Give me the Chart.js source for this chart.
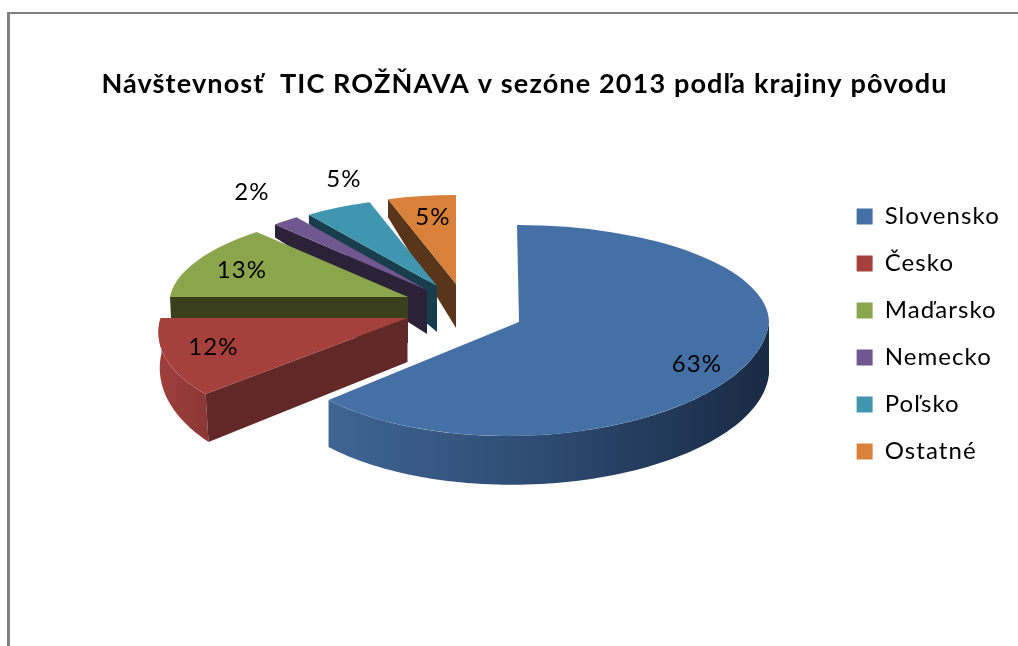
<!DOCTYPE html>
<html>
<head>
<meta charset="utf-8">
<style>html,body{margin:0;padding:0;background:#fff}canvas{display:block}</style>
<script src="https://cdn.jsdelivr.net/npm/chart.js@4"></script>
</head>
<body>
<canvas id="c" width="1018" height="646"></canvas>
<script>
const chartTitle = "Návštevnosť  TIC ROŽŇAVA v sezóne 2013 podľa krajiny pôvodu";
const categories = ["Slovensko", "Česko", "Maďarsko", "Nemecko", "Poľsko", "Ostatné"];
const shareValues = [63, 12, 13, 2, 5, 5];
const faceColors = ["#4570a6", "#a5403d", "#8ba54c", "#71578f", "#3f96ae", "#d9803a"];
const wallColors = ["#2b4768", "#622828", "#3a401c", "#2c2238", "#183d4c", "#59361a"];

// 3-D projection styling for every slice (not data)
const sliceViews = [
  {x:519, y:322, rx:250, ryB:97, ryF:114, shB:2,   shF:-12, rim:[52,47], rimDx:[0,0], rimStops:["#182a44","#2d4a70","#3f6594"], label:[178,42]},
  {x:407.5,y:318, rx:247, ryB:0,  ryF:111, shB:0,   shF:-32, wall:[44,48,3], rim:[48,35], rimDx:[3,1], rimStops:["#8c3835","#9f3f3c"], label:[-194,29]},
  {x:408, y:297, rx:238, ryB:89, ryF:0,   shB:-16, shF:0,   wall:[46,21,1], label:[-166,-27]},
  {x:427, y:290, rx:222, ryB:90, ryF:0,   shB:0,   shF:0,   wall:[44,13,0], label:[-175,-98]},
  {x:437, y:286, rx:218, ryB:88, ryF:0,   shB:0,   shF:0,   wall:[46,9,0],  label:[-93,-107]},
  {x:456, y:284, rx:220, ryB:89, ryF:0,   shB:0,   shF:0,   wall:[44,18,0], label:[-23,-67]}
];

function project(v, a){
  const s = Math.sin(a), c = Math.cos(a);
  const front = s >= 0;
  return { x: v.x + v.rx*c + (front ? v.shF : v.shB)*s, y: v.y + (front ? v.ryF : v.ryB)*s };
}

function drawFace(ctx, arc, v, half, W, H){
  const R = arc.outerRadius;
  const ry = half === 'F' ? v.ryF : v.ryB;
  const sh = half === 'F' ? v.shF : v.shB;
  if (!ry) return;
  ctx.save();
  ctx.beginPath();
  if (half === 'F') ctx.rect(0, v.y - 0.5, W, H); else ctx.rect(0, 0, W, v.y + 0.5);
  ctx.clip();
  const a = v.rx/R, cc = sh/R, d = ry/R;
  ctx.transform(a, 0, cc, d, v.x - a*arc.x - cc*arc.y, v.y - d*arc.y);
  arc.draw(ctx);
  ctx.restore();
}

const pie3d = {
  id: 'pie3d',
  beforeDatasetsDraw(chart){
    const ctx = chart.ctx, W = chart.width, H = chart.height;
    const arcs = chart.getDatasetMeta(0).data;
    for (let i = arcs.length - 1; i >= 0; i--){
      const arc = arcs[i], v = sliceViews[i];
      if (v.rim){
        const a0 = Math.max(arc.startAngle, 0), a1 = Math.min(arc.endAngle, Math.PI);
        const top = [], bottom = [];
        for (let k = 0; k <= 80; k++){
          const t = k/80, a = a0 + (a1-a0)*t, p = project(v, a);
          top.push(p);
          bottom.push({x:p.x + v.rimDx[0] + (v.rimDx[1]-v.rimDx[0])*t, y:p.y + v.rim[0] + (v.rim[1]-v.rim[0])*t});
        }
        const xs = top.map(p => p.x), g = ctx.createLinearGradient(Math.max(...xs),0,Math.min(...xs),0);
        v.rimStops.forEach((c,n) => g.addColorStop(n/(v.rimStops.length-1), c));
        ctx.fillStyle = g;
        ctx.beginPath();
        top.forEach((p,n) => n ? ctx.lineTo(p.x,p.y) : ctx.moveTo(p.x,p.y));
        bottom.reverse().forEach(p => ctx.lineTo(p.x,p.y));
        ctx.closePath();
        ctx.fill();
      }
      if (v.wall){
        const p = project(v, arc.startAngle);
        ctx.fillStyle = wallColors[i];
        ctx.beginPath();
        ctx.moveTo(v.x, v.y);
        ctx.lineTo(p.x, p.y);
        ctx.lineTo(p.x + v.wall[2], p.y + v.wall[1]);
        ctx.lineTo(v.x, v.y + v.wall[0]);
        ctx.closePath();
        ctx.fill();
      }
      drawFace(ctx, arc, v, 'B', W, H);
      drawFace(ctx, arc, v, 'F', W, H);
    }
    ctx.save();
    ctx.fillStyle = '#000';
    ctx.font = '24px Lato';
    ctx.textAlign = 'center';
    ctx.textBaseline = 'middle';
    arcs.forEach((arc,i) => {
      const v = sliceViews[i];
      ctx.fillText(shareValues[i] + '%', v.x + v.label[0], v.y + v.label[1]);
    });
    ctx.restore();
    return false;
  }
};

const frame = {
  id: 'frame',
  beforeDraw(chart){
    const ctx = chart.ctx;
    ctx.letterSpacing = '1.1px';
    ctx.save();
    ctx.fillStyle = '#ffffff';
    ctx.fillRect(0,0,chart.width,chart.height);
    ctx.fillStyle = '#808080';
    ctx.fillRect(7,12,3,chart.height-12);
    ctx.fillRect(7,12,chart.width-7,2);
    ctx.restore();
  }
};

new Chart(document.getElementById('c'), {
  type: 'pie',
  data: { labels: categories, datasets: [{ data: shareValues, backgroundColor: faceColors, borderWidth: 0 }] },
  plugins: [frame, pie3d],
  options: {
    responsive: false,
    animation: false,
    layout: { padding: { left: 49, right: 18, top: 22, bottom: 0 } },
    plugins: {
      tooltip: { enabled: false },
      title: { display: true, text: chartTitle, color: '#000', font: { family: 'Lato', size: 27.1, weight: 'bold' }, padding: { top: 46, bottom: 20 } },
      legend: { position: 'right', labels: { color: '#000', boxWidth: 16, boxHeight: 16, padding: 23, font: { family: 'Lato', size: 24 } } }
    }
  }
});
</script>
</body>
</html>
